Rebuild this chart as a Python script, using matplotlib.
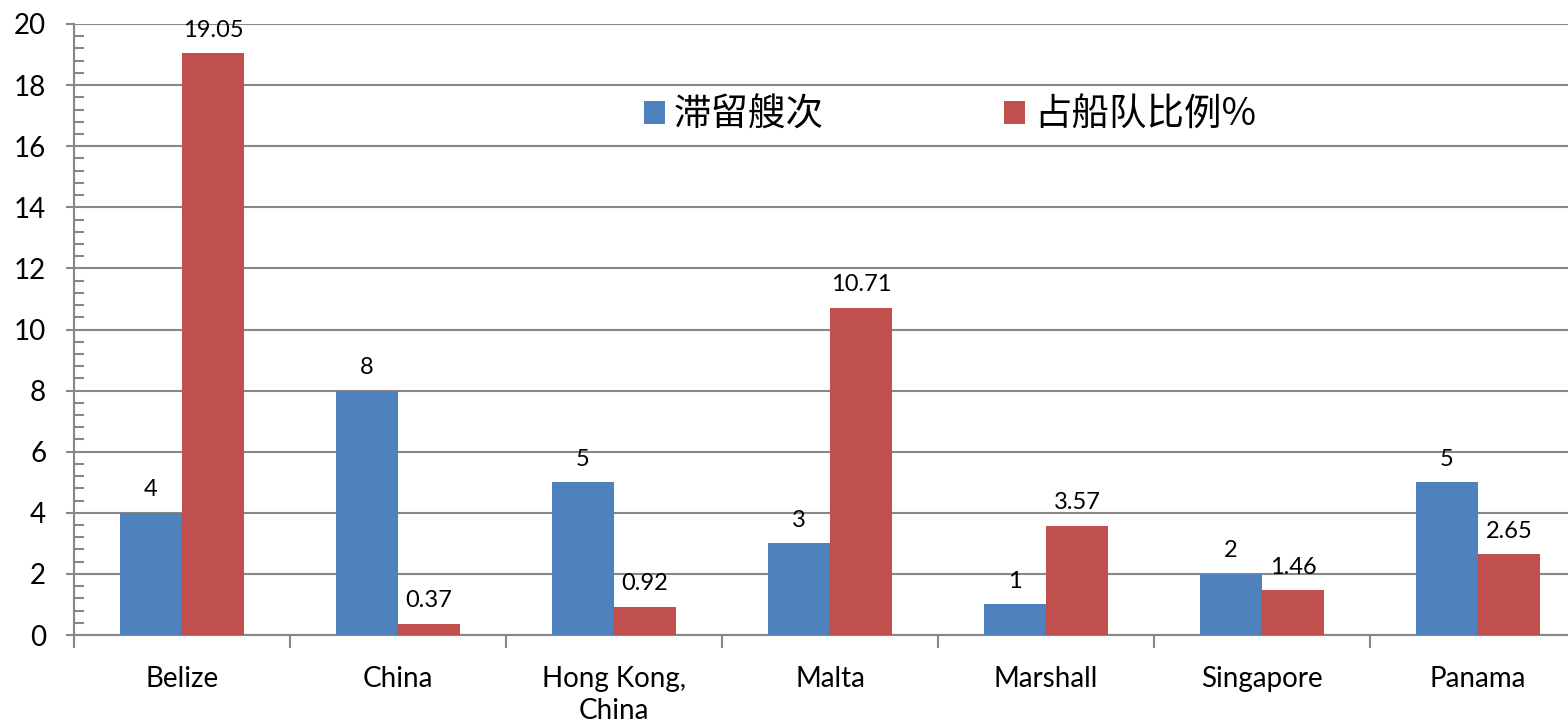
import numpy as np
import matplotlib
matplotlib.use("Agg")
from matplotlib import pyplot as plt
from matplotlib.ticker import MultipleLocator

plt.rcParams['font.family'] = ['Lato', 'Noto Sans CJK SC', 'DejaVu Sans']

# 船旗国数据
countries = ['Belize', 'China', 'Hong Kong,\nChina', 'Malta', 'Marshall', 'Singapore', 'Panama']
detained = [4, 8, 5, 3, 1, 2, 5]                               # 滞留艘次
fleet_pct = [19.05, 0.37, 0.92, 10.71, 3.57, 1.46, 2.65]       # 占船队比例%

blue = '#4F81BD'
red = '#C0504D'
grid_c = '#878787'

W, H = 1568, 726
fig = plt.figure(figsize=(W / 100, H / 100), dpi=100)
# 每个类别宽约216像素, 最右侧略超出画布
ax = fig.add_axes([74 / W, 91 / H, 216 * 7 / W, (635 - 24) / H])

x = np.arange(len(countries))
w = 0.288
b1 = ax.bar(x - w / 2, detained, w, color=blue, label='滞留艘次', zorder=3)
b2 = ax.bar(x + w / 2, fleet_pct, w, color=red, label='占船队比例%', zorder=3)

for bars, vals in ((b1, detained), (b2, fleet_pct)):
    for rect, v in zip(bars, vals):
        ax.annotate(f'{v:g}', (rect.get_x() + rect.get_width() / 2, rect.get_height()),
                    xytext=(0, 9), textcoords='offset points',
                    ha='center', va='bottom', fontsize=17)

ax.set_xlim(-0.5, len(countries) - 0.5)
ax.set_ylim(0, 20)
ax.yaxis.set_major_locator(MultipleLocator(2))
ax.yaxis.set_minor_locator(MultipleLocator(0.4))
ax.set_xticks(x)
ax.set_xticklabels(countries, fontsize=20, linespacing=1.3)
ax.set_xticks(np.arange(len(countries) + 1) - 0.5, minor=True)
ax.tick_params(axis='x', which='major', length=0, pad=22)
ax.tick_params(axis='x', which='minor', length=9, width=1.5, color=grid_c, direction='out')
ax.tick_params(axis='y', which='major', length=6, width=1.5, color=grid_c, direction='out', labelsize=20, pad=14)
ax.tick_params(axis='y', which='minor', length=7, width=1.5, color=grid_c, direction='in')

ax.yaxis.grid(True, which='major', color=grid_c, linewidth=1.5, zorder=0)
for s in ('top', 'right'):
    ax.spines[s].set_visible(False)
for s in ('left', 'bottom'):
    ax.spines[s].set_color(grid_c)
    ax.spines[s].set_linewidth(1.5)

leg = ax.legend(loc='center left', bbox_to_anchor=(644 / W, 1 - 115 / H), bbox_transform=fig.transFigure,
                ncol=2, frameon=False, borderpad=0, borderaxespad=0,
                prop={'family': ['Noto Sans CJK SC', 'DejaVu Sans'], 'size': 27},
                handlelength=0.55, handleheight=0.55, handletextpad=0.25, columnspacing=4.8)

fig.savefig('out.png', dpi=100)
